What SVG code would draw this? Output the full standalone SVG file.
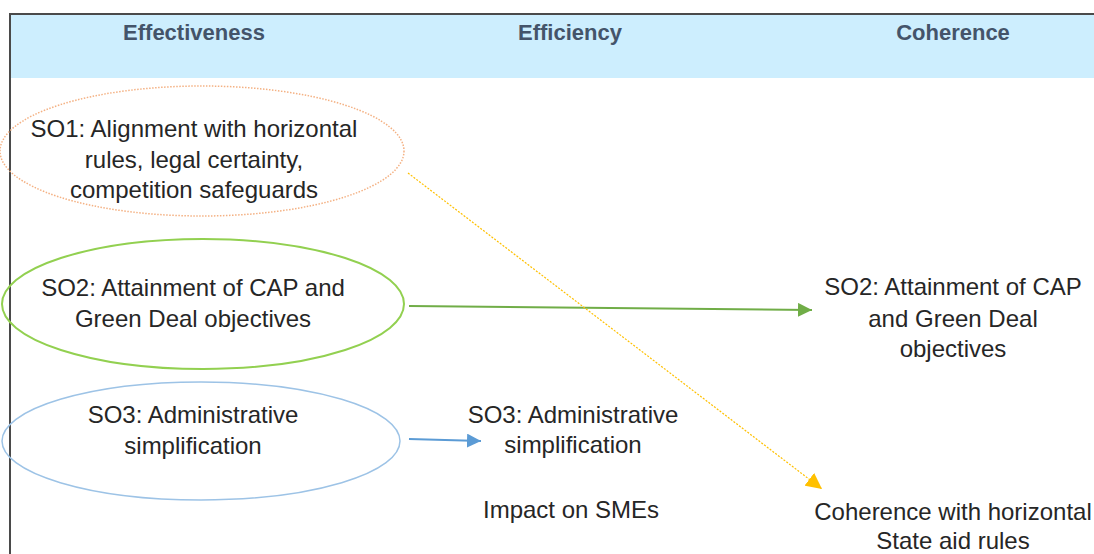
<svg xmlns="http://www.w3.org/2000/svg" width="1094" height="554" viewBox="0 0 1094 554">
<style>
.hd{font-family:"Liberation Sans",Arial,sans-serif;font-weight:bold;font-size:22px;fill:#44546a;text-anchor:middle}
.t{font-family:"Liberation Sans",Arial,sans-serif;font-size:24px;fill:#262626;text-anchor:middle}
</style>
<defs>
<marker id="ag" markerWidth="14" markerHeight="14" refX="14" refY="7" orient="auto" markerUnits="userSpaceOnUse"><path d="M0,0 L14,7 L0,14 Z" fill="#70ad47"/></marker>
<marker id="ab" markerWidth="14" markerHeight="14" refX="14" refY="7" orient="auto" markerUnits="userSpaceOnUse"><path d="M0,0 L14,7 L0,14 Z" fill="#5b9bd5"/></marker>
<marker id="ay" markerWidth="16" markerHeight="16" refX="16" refY="8" orient="auto" markerUnits="userSpaceOnUse"><path d="M0,0 L16,8 L0,16 Z" fill="#ffc000"/></marker>
</defs>
<rect width="1094" height="554" fill="#ffffff"/>
<g id="header">
<rect x="11" y="15" width="1083" height="63" fill="#cdeefe"/>
<path d="M10,554 L10,14 L1094,14" fill="none" stroke="#4a4a4a" stroke-width="2"/>
<text class="hd" x="194" y="40">Effectiveness</text>
<text class="hd" x="570" y="40">Efficiency</text>
<text class="hd" x="953" y="40">Coherence</text>
</g>
<g id="connectors">
<line x1="409" y1="306" x2="812" y2="310" stroke="#70ad47" stroke-width="2" marker-end="url(#ag)"/>
<line x1="409" y1="439" x2="481" y2="441" stroke="#5b9bd5" stroke-width="2" marker-end="url(#ab)"/>
<line x1="408" y1="173" x2="822" y2="489" stroke="#ffc000" stroke-width="1.2" stroke-dasharray="2 1.5" marker-end="url(#ay)"/>
</g>
<g id="so1">
<ellipse cx="202" cy="151" rx="202" ry="65" fill="none" stroke="#f4b183" stroke-width="1.5" stroke-dasharray="1.5 1.5"/>
<text class="t" x="194" y="137">SO1: Alignment with horizontal</text>
<text class="t" x="194" y="168">rules, legal certainty,</text>
<text class="t" x="194" y="198">competition safeguards</text>
</g>
<g id="so2">
<ellipse cx="203" cy="304" rx="201" ry="65" fill="none" stroke="#92d050" stroke-width="2"/>
<text class="t" x="193" y="296">SO2: Attainment of CAP and</text>
<text class="t" x="193" y="327">Green Deal objectives</text>
</g>
<g id="so3">
<ellipse cx="201" cy="441" rx="199" ry="59" fill="none" stroke="#9dc3e6" stroke-width="1.5"/>
<text class="t" x="193" y="423">SO3: Administrative</text>
<text class="t" x="193" y="454">simplification</text>
</g>
<g id="eff-so3">
<text class="t" x="573" y="423">SO3: Administrative</text>
<text class="t" x="573" y="453">simplification</text>
</g>
<g id="eff-sme">
<text class="t" x="571" y="518">Impact on SMEs</text>
</g>
<g id="coh-so2">
<text class="t" x="953" y="295">SO2: Attainment of CAP</text>
<text class="t" x="953" y="327">and Green Deal</text>
<text class="t" x="953" y="357">objectives</text>
</g>
<g id="coh-state">
<text class="t" x="953" y="520">Coherence with horizontal</text>
<text class="t" x="953" y="549">State aid rules</text>
</g>
</svg>
